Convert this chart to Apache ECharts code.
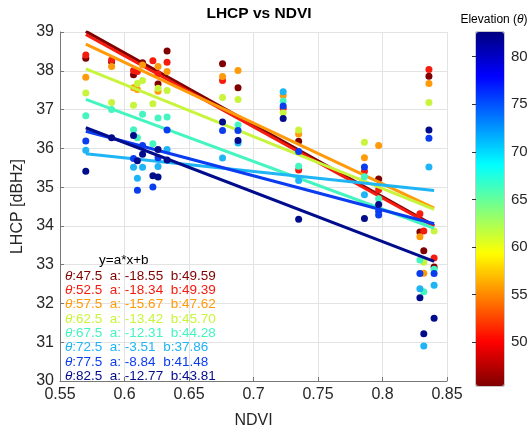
<!DOCTYPE html>
<html>
<head>
<meta charset="utf-8">
<script src="https://cdn.jsdelivr.net/npm/echarts@6/dist/echarts.min.js"></script>
<style>
html,body{margin:0;padding:0;background:#fff;}
#c{width:531px;height:434px;}
</style>
</head>
<body>
<div id="c"></div>
<script>
// ---- data ----
const thetas = [47.5, 52.5, 57.5, 62.5, 67.5, 72.5, 77.5, 82.5];
const slopes = [-18.55, -18.34, -15.67, -13.42, -12.31, -3.51, -8.84, -12.77];
const intercepts = [49.59, 49.39, 47.62, 45.70, 44.28, 37.86, 41.48, 43.81];
const fitRange = [0.57, 0.84];
const xTicks = [0.55, 0.6, 0.65, 0.7, 0.75, 0.8, 0.85];
const cbarTicks = [50, 55, 60, 65, 70, 75, 80];
const cbarRange = [45.4, 82.6];

const pts47_5 = [[0.57,38.32],[0.59,38.23],[0.607,37.90],[0.614,38.21],[0.626,37.66],[0.633,38.51],[0.676,38.18],[0.688,37.56],[0.735,36.18],[0.797,35.21],[0.836,37.86],[0.829,33.84],[0.832,33.36],[0.840,32.94]];
const pts52_5 = [[0.57,38.41],[0.59,38.28],[0.607,38.01],[0.61,37.98],[0.622,38.26],[0.626,37.92],[0.633,38.22],[0.676,37.75],[0.723,37.03],[0.735,35.44],[0.786,35.41],[0.797,34.93],[0.836,38.03],[0.829,34.31],[0.832,33.87],[0.840,33.17]];
const pts57_5 = [[0.57,37.83],[0.59,38.11],[0.607,37.56],[0.61,37.52],[0.614,38.15],[0.626,38.11],[0.626,37.47],[0.633,37.98],[0.676,37.85],[0.688,38.01],[0.723,37.36],[0.735,36.37],[0.786,35.76],[0.797,36.07],[0.836,37.67],[0.829,33.72],[0.832,32.78]];
const pts62_5 = [[0.57,37.43],[0.59,37.18],[0.607,37.11],[0.61,37.67],[0.614,37.75],[0.622,37.15],[0.626,37.55],[0.633,37.49],[0.676,37.31],[0.688,37.26],[0.723,36.92],[0.735,36.47],[0.786,36.16],[0.836,37.18],[0.832,33.06],[0.840,33.87]];
const pts67_5 = [[0.57,36.84],[0.59,37.00],[0.607,36.48],[0.61,36.27],[0.614,36.88],[0.622,36.12],[0.626,36.78],[0.633,36.81],[0.688,36.60],[0.723,37.22],[0.735,35.54],[0.786,35.27],[0.797,34.70],[0.829,33.12],[0.832,32.30],[0.840,32.88]];
const pts72_5 = [[0.57,35.95],[0.607,35.51],[0.61,35.23],[0.614,35.51],[0.626,35.53],[0.633,35.97],[0.676,35.75],[0.688,36.14],[0.723,37.46],[0.735,35.17],[0.786,34.80],[0.836,35.52],[0.829,32.38],[0.840,32.47],[0.832,30.90]];
const pts77_5 = [[0.57,36.19],[0.607,35.74],[0.61,34.92],[0.614,36.07],[0.622,35.00],[0.626,35.76],[0.633,36.47],[0.676,36.46],[0.688,36.46],[0.723,37.09],[0.735,35.92],[0.786,35.52],[0.797,34.38],[0.797,34.28],[0.836,36.26],[0.829,32.77],[0.840,32.77]];
const pts82_5 = [[0.57,35.41],[0.59,36.27],[0.607,36.33],[0.61,35.68],[0.614,35.85],[0.622,35.29],[0.626,35.97],[0.626,35.26],[0.633,35.70],[0.676,36.68],[0.688,36.20],[0.723,36.77],[0.735,34.17],[0.786,34.19],[0.797,34.55],[0.836,36.47],[0.829,32.15],[0.840,31.62],[0.832,31.22]];
const pointSets = [pts47_5, pts52_5, pts57_5, pts62_5, pts67_5, pts72_5, pts77_5, pts82_5];

const colors = ['#800000', '#f51b0f', '#ff9a0a', '#c8f53c', '#45f5c0', '#1eb4f5', '#0a3cf0', '#000c8c'];
const jet = ['#800000','#ff0000','#ff8000','#ffff00','#80ff80','#00ffff','#0080ff','#0000ff','#000080'];

// ---- build ----
const FONT = 'Liberation Sans, Arial, Helvetica, sans-serif';
const series = [];
thetas.forEach((t, i) => {
  series.push({
    type: 'scatter', name: 'pts' + t, data: pointSets[i],
    symbolSize: 7, itemStyle: { color: colors[i], opacity: 1 },
    xAxisIndex: 0, yAxisIndex: 0, z: 2 + i * 2, silent: true
  });
  series.push({
    type: 'line', name: 'fit' + t,
    data: fitRange.map(x => [x, slopes[i] * x + intercepts[i]]),
    showSymbol: false, symbol: 'none',
    lineStyle: { color: colors[i], width: 3 },
    xAxisIndex: 0, yAxisIndex: 0, z: 3 + i * 2, silent: true
  });
});
// dummy series for the colorbar axis
series.push({ type: 'scatter', data: [], xAxisIndex: 1, yAxisIndex: 1 });
const dummyIdx = series.length - 1;

const legendTexts = thetas.map((t, i) => ({
  type: 'text',
  left: 65, top: 269 + i * 14.3,
  style: {
    text: '{i|θ}:' + t.toFixed(1) + '  a: ' + slopes[i].toFixed(2) + '  b:' + intercepts[i].toFixed(2),
    fill: colors[i], font: '13.5px ' + FONT,
    rich: { i: { fontStyle: 'italic', fill: colors[i], fontSize: 13.5, fontFamily: FONT } }
  },
  z: 100
}));
legendTexts.push({
  type: 'text', left: 99, top: 253,
  style: { text: 'y=a*x+b', fill: '#000', font: '13.5px ' + FONT }, z: 100
});

const option = {
  backgroundColor: '#fff',
  animation: false,
  textStyle: { fontFamily: FONT },
  title: [
    { text: 'LHCP vs NDVI', left: 254, top: 1, textAlign: 'center',
      textStyle: { fontSize: 15.5, fontWeight: 'bold', color: '#000', fontFamily: FONT } },
    { text: 'Elevation ({i|θ})', left: 489, top: 9, textAlign: 'center',
      textStyle: { fontSize: 12, fontWeight: 'normal', color: '#000', fontFamily: FONT,
        rich: { i: { fontStyle: 'italic', fontSize: 12, color: '#000', fontFamily: FONT } } } }
  ],
  grid: [
    { left: 60, top: 32, width: 387, height: 354 },
    { left: 476, top: 32, width: 28, height: 354, show: true, borderColor: '#444', borderWidth: 0.6, backgroundColor: 'transparent' }
  ],
  xAxis: [
    { type: 'value', gridIndex: 0, min: 0.55, max: 0.85, interval: 0.05,
      name: 'NDVI', nameLocation: 'middle', nameGap: 32,
      nameTextStyle: { fontSize: 16, color: '#262626' },
      axisLine: { show: true, lineStyle: { color: '#777', width: 1 } },
      axisTick: { show: true, inside: true, length: 4, lineStyle: { color: '#777' } },
      axisLabel: { fontSize: 16, color: '#262626', margin: 6, formatter: v => String(+v.toFixed(2)) },
      splitLine: { show: true, lineStyle: { color: '#e3e3e3', width: 1 } } },
    { type: 'value', gridIndex: 1, min: 0, max: 1, show: false }
  ],
  yAxis: [
    { type: 'value', gridIndex: 0, min: 30, max: 39, interval: 1,
      name: 'LHCP [dBHz]', nameLocation: 'middle', nameGap: 23, nameRotate: 90,
      nameTextStyle: { fontSize: 16, color: '#262626' },
      axisLine: { show: true, lineStyle: { color: '#777', width: 1 } },
      axisTick: { show: true, inside: true, length: 4, lineStyle: { color: '#777' } },
      axisLabel: { fontSize: 16, color: '#262626', margin: 6 },
      splitLine: { show: true, lineStyle: { color: '#e3e3e3', width: 1 } } },
    { type: 'value', gridIndex: 1, min: cbarRange[0], max: cbarRange[1], position: 'right',
      axisLine: { show: false },
      axisTick: { show: true, inside: true, length: 4, lineStyle: { color: '#333' }, customValues: cbarTicks },
      axisLabel: { fontSize: 15, color: '#262626', margin: 7, customValues: cbarTicks },
      splitLine: { show: false } }
  ],
  visualMap: {
    type: 'continuous', min: cbarRange[0], max: cbarRange[1],
    seriesIndex: dummyIdx, orient: 'vertical',
    left: 476, top: 32, itemWidth: 28, itemHeight: 354, padding: 0,
    calculable: false, inRange: { color: jet }, z: 1
  },
  graphic: legendTexts,
  series: series
};
const chart = echarts.init(document.getElementById('c'), null, { renderer: 'canvas' });
chart.setOption(option);
</script>
</body>
</html>
